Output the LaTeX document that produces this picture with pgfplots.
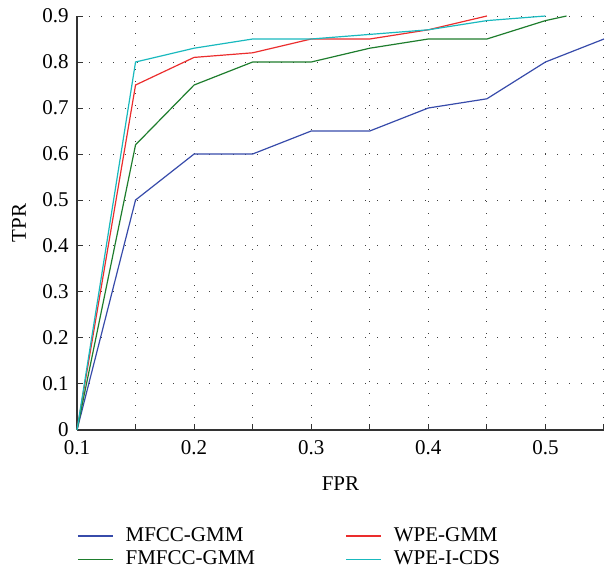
\documentclass[border=0pt]{standalone}
\usepackage{fontspec}
\setmainfont{Liberation Serif}
\usepackage{pgfplots}
\pgfplotsset{compat=1.18}

\definecolor{cmfcc}{RGB}{55,75,170}
\definecolor{cfmfcc}{RGB}{30,125,45}
\definecolor{cwpe}{RGB}{235,45,45}
\definecolor{ccds}{RGB}{25,185,190}

\begin{document}
\fontsize{10.5pt}{12.6pt}\selectfont
\begin{tikzpicture}
\begin{axis}[
  scale only axis,
  width=263.5pt, height=207pt,
  xmin=0.1, xmax=0.55,
  ymin=0, ymax=0.9,
  axis x line*=bottom,
  axis y line*=left,
  axis line style={black!80, line width=0.6pt},
  xtick={0.1,0.2,0.3,0.4,0.5},
  minor xtick={0.15,0.25,0.35,0.45,0.55},
  ytick={0,0.1,...,0.9},
  tick align=inside,
  major tick length=3pt, minor tick length=3pt,
  tick style={black!80, line width=0.5pt},
  xticklabel style={/pgf/number format/fixed, yshift=-1.5pt},
  yticklabel style={/pgf/number format/fixed, xshift=-0.5pt},
  /pgf/number format/assume math mode=true,
  grid=both,
  grid style={black!75, line width=0.5pt, dash pattern=on 0.5pt off 5.5pt},
  minor grid style={black!75, line width=0.5pt, dash pattern=on 0.5pt off 5.5pt},
  xlabel={FPR},
  ylabel={TPR},
  xlabel style={yshift=-4pt},
  ylabel style={yshift=1pt},
  clip=false,
  every axis plot/.append style={line width=0.6pt},
  legend columns=2,
  legend cell align=left,
  legend image code/.code={\draw[#1] (0pt,0pt) -- (17.5pt,0pt);},
  legend style={at={(0,-0.225)}, anchor=north west, draw=none, fill=none,
    inner sep=0pt, column sep=0pt, row sep=-1pt,
    nodes={inner xsep=6pt, inner ysep=2pt}},
]
\addplot[cmfcc] coordinates {
  (0.10,0) (0.15,0.50) (0.20,0.60) (0.25,0.60) (0.30,0.65) (0.35,0.65)
  (0.40,0.70) (0.45,0.72) (0.50,0.80) (0.55,0.85)};
\addlegendentry{\makebox[104pt][l]{MFCC-GMM}}
\addplot[cwpe] coordinates {
  (0.10,0) (0.15,0.75) (0.20,0.81) (0.25,0.82) (0.30,0.85) (0.35,0.85)
  (0.40,0.87) (0.45,0.90)};
\addlegendentry{WPE-GMM}
\addplot[cfmfcc] coordinates {
  (0.10,0) (0.15,0.62) (0.20,0.75) (0.25,0.80) (0.30,0.80) (0.35,0.83)
  (0.40,0.85) (0.45,0.85) (0.50,0.89) (0.518,0.90)};
\addlegendentry{\makebox[104pt][l]{FMFCC-GMM}}
\addplot[ccds] coordinates {
  (0.10,0) (0.15,0.80) (0.20,0.83) (0.25,0.85) (0.30,0.85) (0.35,0.86)
  (0.40,0.87) (0.45,0.89) (0.50,0.90)};
\addlegendentry{WPE-I-CDS}
\end{axis}
\path (-38.5pt,-68.5pt) rectangle (266.5pt,215pt);
\end{tikzpicture}
\end{document}
